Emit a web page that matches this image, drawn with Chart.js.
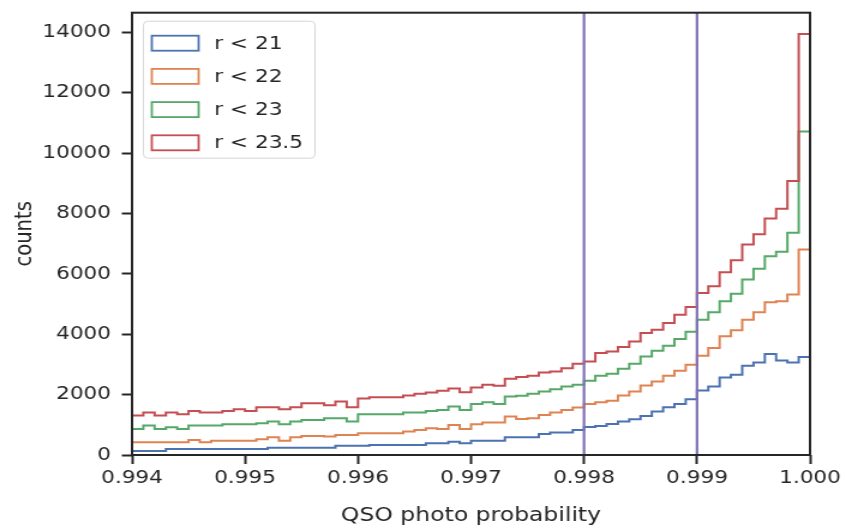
<!DOCTYPE html>
<html>
<head>
<meta charset="utf-8">
<script src="https://cdn.jsdelivr.net/npm/chart.js@4"></script>
<style>
  html, body { margin: 0; padding: 0; background: #fff; overflow: hidden; }
  /* the reference is stretched horizontally (704 -> 845), so draw at 704 and stretch */
  #wrap { width: 704px; height: 529px; transform: scaleX(1.2); transform-origin: 0 0; }
</style>
</head>
<body>
<div id="wrap"><canvas id="qsoChart" width="704" height="529"></canvas></div>
<script>
// histogram bins: 60 bins of width 0.0001 from 0.994 to 1.000
const binStart = 0.994;
const binWidth = 0.0001;

const seriesNames = ['r < 21', 'r < 22', 'r < 23', 'r < 23.5'];
const seriesColors = ['#4C72B0', '#DD8452', '#55A868', '#C44E52'];

const countsR21 = [
  133, 133, 133, 199, 199, 199, 199, 199, 199, 199,
  199, 199, 243, 243, 243, 243, 243, 243, 310, 310,
  310, 332, 332, 332, 332, 332, 387, 387, 443, 387,
  476, 476, 476, 586, 586, 586, 697, 742, 742, 830,
  925, 963, 1030, 1106, 1184, 1295, 1440, 1583, 1693, 1850,
  2135, 2270, 2568, 2656, 2955, 3065, 3343, 3130, 3065, 3243
];
const countsR22 = [
  420, 420, 420, 420, 420, 498, 420, 476, 476, 476,
  476, 520, 586, 476, 586, 631, 631, 609, 664, 664,
  720, 720, 720, 720, 775, 830, 885, 863, 996, 863,
  1018, 1073, 1073, 1273, 1195, 1217, 1328, 1405, 1494, 1572,
  1690, 1750, 1793, 1970, 2103, 2300, 2435, 2623, 2790, 2990,
  3290, 3540, 3930, 4130, 4482, 4725, 5060, 5090, 5312, 6810
];
const countsR23 = [
  863, 973, 863, 918, 863, 973, 973, 973, 1018, 1018,
  1018, 1051, 1106, 1018, 1106, 1162, 1162, 1217, 1217, 1106,
  1350, 1350, 1350, 1350, 1405, 1405, 1460, 1494, 1605, 1494,
  1693, 1750, 1693, 1937, 1960, 2025, 2103, 2180, 2270, 2324,
  2460, 2623, 2690, 2855, 3021, 3265, 3453, 3620, 3840, 4084,
  4482, 4725, 5090, 5345, 5810, 6165, 6585, 6730, 7360, 10714
];
const countsR235 = [
  1305, 1405, 1305, 1405, 1350, 1460, 1405, 1405, 1460, 1516,
  1460, 1583, 1583, 1516, 1583, 1716, 1716, 1650, 1770, 1583,
  1870, 1916, 1916, 1916, 1970, 2025, 2070, 2125, 2200, 2080,
  2236, 2324, 2290, 2523, 2580, 2623, 2733, 2766, 2877, 3021,
  3098, 3376, 3430, 3575, 3762, 4040, 4150, 4372, 4648, 4900,
  5368, 5590, 6053, 6452, 6972, 7314, 7835, 8157, 9074, 13944
];
const allCounts = [countsR21, countsR22, countsR23, countsR235];

const cutLines = [0.998, 0.999];

const xTicks = [0.994, 0.995, 0.996, 0.997, 0.998, 0.999, 1.000];
const xTickLabels = ['0.994', '0.995', '0.996', '0.997', '0.998', '0.999', '1.000'];
const yTicks = [0, 2000, 4000, 6000, 8000, 10000, 12000, 14000];
const yTickLabels = ['0', '2000', '4000', '6000', '8000', '10000', '12000', '14000'];

const ink = '#262626';

// outline of a step histogram: up from 0 at the first edge, down to 0 at the last
function stepPoints(counts) {
    const pts = [{ x: binStart, y: 0 }];
    counts.forEach((c, i) => pts.push({ x: binStart + i * binWidth, y: c }));
    const end = binStart + counts.length * binWidth;
    pts.push({ x: end, y: counts[counts.length - 1] });
    pts.push({ x: end, y: 0 });
    return pts;
}

// vertical cut lines (axvline), frame and legend
const extras = {
    id: 'extras',
    afterDatasetsDraw(chart) {
        const { ctx, chartArea: a, scales } = chart;
        ctx.save();
        ctx.strokeStyle = '#8172B3';
        ctx.lineWidth = 2.2;
        cutLines.forEach(v => {
            const px = scales.x.getPixelForValue(v);
            ctx.beginPath();
            ctx.moveTo(px, a.top);
            ctx.lineTo(px, a.bottom);
            ctx.stroke();
        });
        ctx.restore();
    },
    afterDraw(chart) {
        const { ctx, chartArea: a } = chart;
        ctx.save();
        // spines
        ctx.strokeStyle = ink;
        ctx.lineWidth = 2;
        ctx.strokeRect(a.left, a.top, a.right - a.left, a.bottom - a.top);

        // legend
        const lx = a.left + 9.5, ly = a.top + 8.5, lw = 143, lh = 137;
        ctx.beginPath();
        ctx.roundRect(lx, ly, lw, lh, 4);
        ctx.fillStyle = 'rgba(255,255,255,0.8)';
        ctx.fill();
        ctx.strokeStyle = '#d6d6d6';
        ctx.lineWidth = 1;
        ctx.stroke();

        ctx.font = '18px "DejaVu Sans"';
        ctx.textBaseline = 'middle';
        ctx.textAlign = 'left';
        seriesNames.forEach((name, i) => {
            const cy = ly + 22 + i * 33.2;
            ctx.strokeStyle = seriesColors[i];
            ctx.lineWidth = 1.8;
            ctx.strokeRect(lx + 7, cy - 7.5, 39, 15);
            ctx.fillStyle = ink;
            ctx.fillText(name, lx + 59, cy + 1);
        });
        ctx.restore();
    }
};

Chart.defaults.font.family = '"DejaVu Sans", sans-serif';
Chart.defaults.font.size = 18;
Chart.defaults.color = ink;

new Chart(document.getElementById('qsoChart'), {
    type: 'line',
    data: {
        datasets: allCounts.map((counts, i) => ({
            label: seriesNames[i],
            data: stepPoints(counts),
            borderColor: seriesColors[i],
            backgroundColor: 'rgba(0,0,0,0)',
            borderWidth: 2,
            stepped: 'before',
            pointRadius: 0,
            fill: false,
            order: allCounts.length - i
        }))
    },
    options: {
        responsive: false,
        animation: false,
        events: [],
        layout: { padding: { top: 12.7, right: 29, left: 0, bottom: 0 } },
        plugins: { legend: { display: false }, tooltip: { enabled: false } },
        scales: {
            x: {
                type: 'linear',
                min: 0.994,
                max: 1.0,
                afterBuildTicks: s => { s.ticks = xTicks.map(v => ({ value: v })); },
                afterFit: s => { s.height = 74; s.paddingLeft = 0; s.paddingRight = 0; },
                ticks: {
                    callback: (v, i) => xTickLabels[i],
                    autoSkip: false,
                    maxRotation: 0,
                    padding: 4
                },
                grid: { drawOnChartArea: false, tickLength: 9, tickColor: ink, tickWidth: 2 },
                border: { display: false },
                title: { display: true, text: 'QSO photo probability', font: { size: 19.6 }, padding: { top: 0, bottom: 1 } }
            },
            y: {
                min: 0,
                max: 14650,
                afterBuildTicks: s => { s.ticks = yTicks.map(v => ({ value: v })); },
                afterFit: s => { s.width = 110; s.paddingTop = 0; s.paddingBottom = 0; },
                ticks: {
                    callback: (v, i) => yTickLabels[i],
                    padding: 9
                },
                grid: { drawOnChartArea: false, tickLength: 8.5, tickColor: ink, tickWidth: 2 },
                border: { display: false },
                title: { display: true, text: 'counts', font: { size: 19.6 }, padding: { top: 9, bottom: 0 } }
            }
        }
    },
    plugins: [extras]
});
</script>
</body>
</html>
